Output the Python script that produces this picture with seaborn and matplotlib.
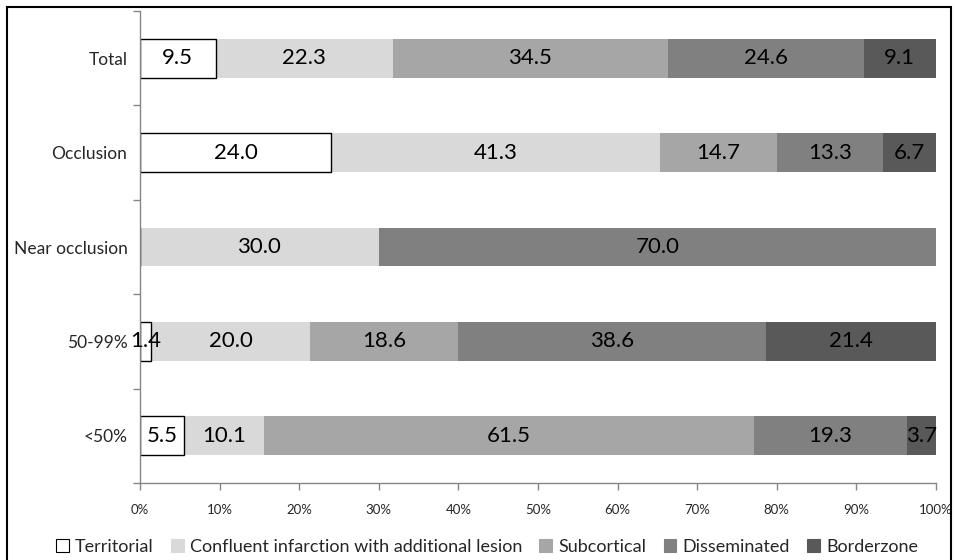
import matplotlib
matplotlib.use("Agg")
import matplotlib.pyplot as plt
from matplotlib import font_manager
from matplotlib.patches import Rectangle, Patch
import numpy as np
import pandas as pd
import seaborn as sns

# Data: percentage of infarct pattern by degree of stenosis
categories = ["Total", "Occlusion", "Near occlusion", "50-99%", "<50%"]
territorial = [9.5, 24.0, 0.0, 1.4, 5.5]
confluent = [22.3, 41.3, 30.0, 20.0, 10.1]
subcortical = [34.5, 14.7, 0.0, 18.6, 61.5]
disseminated = [24.6, 13.3, 70.0, 38.6, 19.3]
borderzone = [9.1, 6.7, 0.0, 21.4, 3.7]

series_names = ["Territorial", "Confluent infarction with additional lesion",
                "Subcortical", "Disseminated", "Borderzone"]
series_values = [territorial, confluent, subcortical, disseminated, borderzone]
series_colors = ["#ffffff", "#d9d9d9", "#a6a6a6", "#808080", "#595959"]

x_ticks = list(range(0, 101, 10))
x_tick_labels = [f"{t}%" for t in x_ticks]

sns.set_style("white")
installed = {f.name for f in font_manager.fontManager.ttflist}
main_font = "Lato" if "Lato" in installed else "DejaVu Sans"
narrow_font = "Liberation Sans Narrow" if "Liberation Sans Narrow" in installed else main_font
plt.rcParams["font.family"] = [main_font, "DejaVu Sans"]

fig = plt.figure(figsize=(9.55, 5.6), dpi=100)
ax = fig.add_axes([140 / 955, 1 - 483 / 560, (936 - 140) / 955, (483 - 11) / 560])

# Long table, then stack by drawing cumulative totals from the outermost segment inward
df = pd.DataFrame({name: vals for name, vals in zip(series_names, series_values)},
                  index=categories)
cum = df.cumsum(axis=1)

for i in range(len(series_names) - 1, -1, -1):
    name = series_names[i]
    d = pd.DataFrame({"category": categories, "value": cum[name].values})
    edge = "black" if i == 0 else "none"
    sns.barplot(data=d, y="category", x="value", order=categories, orient="h",
                color=series_colors[i], saturation=1, width=0.41, ax=ax,
                edgecolor=edge, linewidth=1.0 if i == 0 else 0)

# Value labels centred in each segment
for r, cat in enumerate(categories):
    left = 0.0
    for name in series_names:
        v = df.loc[cat, name]
        if v > 0:
            ax.text(left + v / 2, r, f"{v:.1f}", ha="center", va="center",
                    fontsize=16, color="black")
        left += v

ax.set_xlim(0, 100)
ax.set_ylim(len(categories) - 0.5, -0.5)
ax.set_xlabel("")
ax.set_ylabel("")

ax.set_xticks(x_ticks)
ax.set_xticklabels(x_tick_labels, fontsize=9.5, family=[narrow_font, "DejaVu Sans"])
ax.tick_params(axis="x", direction="out", length=5, width=1, color="#868686",
               bottom=True, pad=10)

ax.set_yticks(range(len(categories)))
ax.set_yticklabels(categories, fontsize=12.5)
ax.set_yticks(np.arange(-0.5, len(categories), 1.0), minor=True)
ax.tick_params(axis="y", which="major", length=0, pad=9)
ax.tick_params(axis="y", which="minor", direction="out", length=5, width=1,
               color="#868686", left=True)

for side in ["top", "right"]:
    ax.spines[side].set_visible(False)
for side in ["left", "bottom"]:
    ax.spines[side].set_color("#868686")
    ax.spines[side].set_linewidth(1)

handles = [Patch(facecolor=c, edgecolor="black" if i == 0 else c, linewidth=0.8)
           for i, c in enumerate(series_colors)]
fig.legend(handles, series_names, loc="center", bbox_to_anchor=(487 / 955, 1 - 547 / 560),
           ncol=5, frameon=False, handlelength=0.7, handleheight=0.7,
           handletextpad=0.35, columnspacing=0.95,
           prop={"family": [narrow_font, "DejaVu Sans"], "size": 13})

# Outer frame of the chart area
fig.add_artist(Rectangle((7 / 955, -0.05), (951 - 7) / 955, 1.05 - 7 / 560,
                         transform=fig.transFigure, fill=False,
                         edgecolor="black", linewidth=1.5, clip_on=False))

fig.savefig("out.png", dpi=100)
